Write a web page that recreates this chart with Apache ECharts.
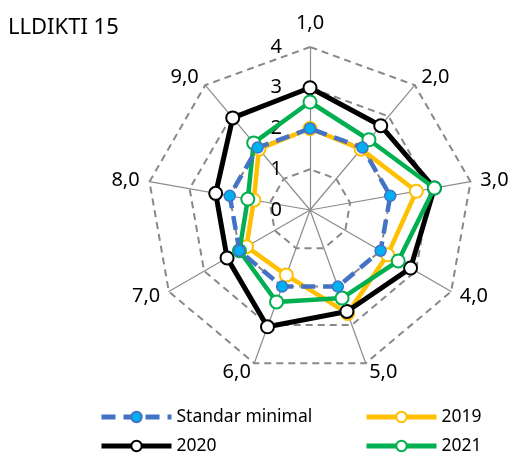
<!DOCTYPE html>
<html>
<head>
<meta charset="utf-8">
<script src="https://cdn.jsdelivr.net/npm/echarts@6/dist/echarts.min.js"></script>
<style>
  html, body { margin: 0; padding: 0; background: #fff; }
  #chart { width: 516px; height: 455px; }
</style>
</head>
<body>
<div id="chart"></div>
<script>
// indikator 1..9 (searah jarum jam dari atas)
const categories = ["1,0", "2,0", "3,0", "4,0", "5,0", "6,0", "7,0", "8,0", "9,0"];
const standarMinimal = [2, 2, 2, 2, 2, 2, 2, 2, 2];
const data2019 = [2.0, 1.95, 2.65, 2.2, 2.7, 1.7, 1.8, 1.4, 1.95];
const data2020 = [3.0, 2.7, 3.1, 2.85, 2.65, 3.05, 2.35, 2.35, 2.95];
const data2021 = [2.65, 2.25, 3.1, 2.5, 2.3, 2.4, 2.0, 1.55, 2.15];
const radialMax = 4;

const FONT = "Noto Sans";

// echarts radar goes counter-clockwise, so flip the order (keep 1,0 on top)
const order = [0, 8, 7, 6, 5, 4, 3, 2, 1];
const reorder = arr => order.map(i => arr[i]);

const indicator = order.map((i, k) => {
  const ind = { name: categories[i], max: radialMax, min: 0 };
  if (k === 0) {
    // only the top axis shows 0..4
    ind.axisLabel = { show: true };
    ind.nameGap = 14;
  }
  return ind;
});

const chart = echarts.init(document.getElementById("chart"));

const seriesStyle = {
  "Standar minimal": { color: "#4472C4", type: [14, 8], fill: "#00B0F0", size: 11, legendSymbol: "circle" },
  "2019": { color: "#FFC000", type: "solid", fill: "#fff", size: 13, legendSymbol: "emptyCircle" },
  "2020": { color: "#000000", type: "solid", fill: "#fff", size: 13, legendSymbol: "emptyCircle" },
  "2021": { color: "#00B050", type: "solid", fill: "#fff", size: 13, legendSymbol: "emptyCircle" },
};
const seriesData = {
  "Standar minimal": standarMinimal,
  "2019": data2019,
  "2020": data2020,
  "2021": data2021,
};
const names = Object.keys(seriesData);

// empty line series only so the legend shows line + marker icons
const legendSeries = names.map(n => {
  const s = seriesStyle[n];
  return {
    type: "line",
    name: n,
    data: [],
    symbol: s.legendSymbol,
    symbolSize: s.size,
    lineStyle: { color: s.color, width: 5, type: s.type },
    itemStyle: s.legendSymbol === "circle"
      ? { color: s.fill, borderColor: s.color, borderWidth: 1.5 }
      : { color: s.color, borderWidth: 2 },
  };
});

const radarSeries = names.map((n, idx) => {
  const s = seriesStyle[n];
  return {
    type: "radar",
    name: n,
    z: 2 + idx,
    symbol: "circle",
    symbolSize: s.size,
    lineStyle: { color: s.color, width: n === "2020" ? 5 : 4.5, type: s.type },
    itemStyle: { color: s.fill, borderColor: s.color, borderWidth: s.fill === "#fff" ? 2 : 1.5, opacity: 1 },
    data: [{ value: reorder(seriesData[n]), name: n }],
  };
});

const legendCommon = {
  orient: "vertical",
  top: 403,
  height: 55,
  itemWidth: 70,
  itemHeight: 13,
  itemGap: 11,
  textStyle: { fontFamily: FONT, fontSize: 17.5, color: "#000" },
  lineStyle: { width: 5 },
};

const option = {
  backgroundColor: "#fff",
  animation: false,
  title: {
    text: "LLDIKTI 15",
    left: 3,
    top: 12,
    textStyle: { fontFamily: FONT, fontSize: 22, fontWeight: "normal", color: "#000" },
  },
  grid: { show: false, left: 0, top: 0, width: 1, height: 1 },
  xAxis: { type: "category", show: false },
  yAxis: { type: "value", show: false },
  legend: [
    Object.assign({ left: 94, data: ["Standar minimal", "2020"] }, legendCommon),
    Object.assign({ left: 359, data: ["2019", "2021"] }, legendCommon),
  ],
  radar: {
    center: [310, 210],
    radius: 163,
    shape: "polygon",
    startAngle: 90,
    splitNumber: 4,
    nameGap: 10,
    indicator: indicator,
    axisName: { color: "#000", fontFamily: FONT, fontSize: 20 },
    axisLine: { lineStyle: { color: "#8c8c8c", width: 1.2 } },
    splitLine: { lineStyle: { color: "#888", width: 2, type: [7, 5] } },
    splitArea: { show: false },
    axisTick: { show: false },
    axisLabel: { show: false, color: "#000", fontFamily: FONT, fontSize: 20, margin: 28 },
  },
  series: legendSeries.concat(radarSeries),
};

chart.setOption(option);
</script>
</body>
</html>
